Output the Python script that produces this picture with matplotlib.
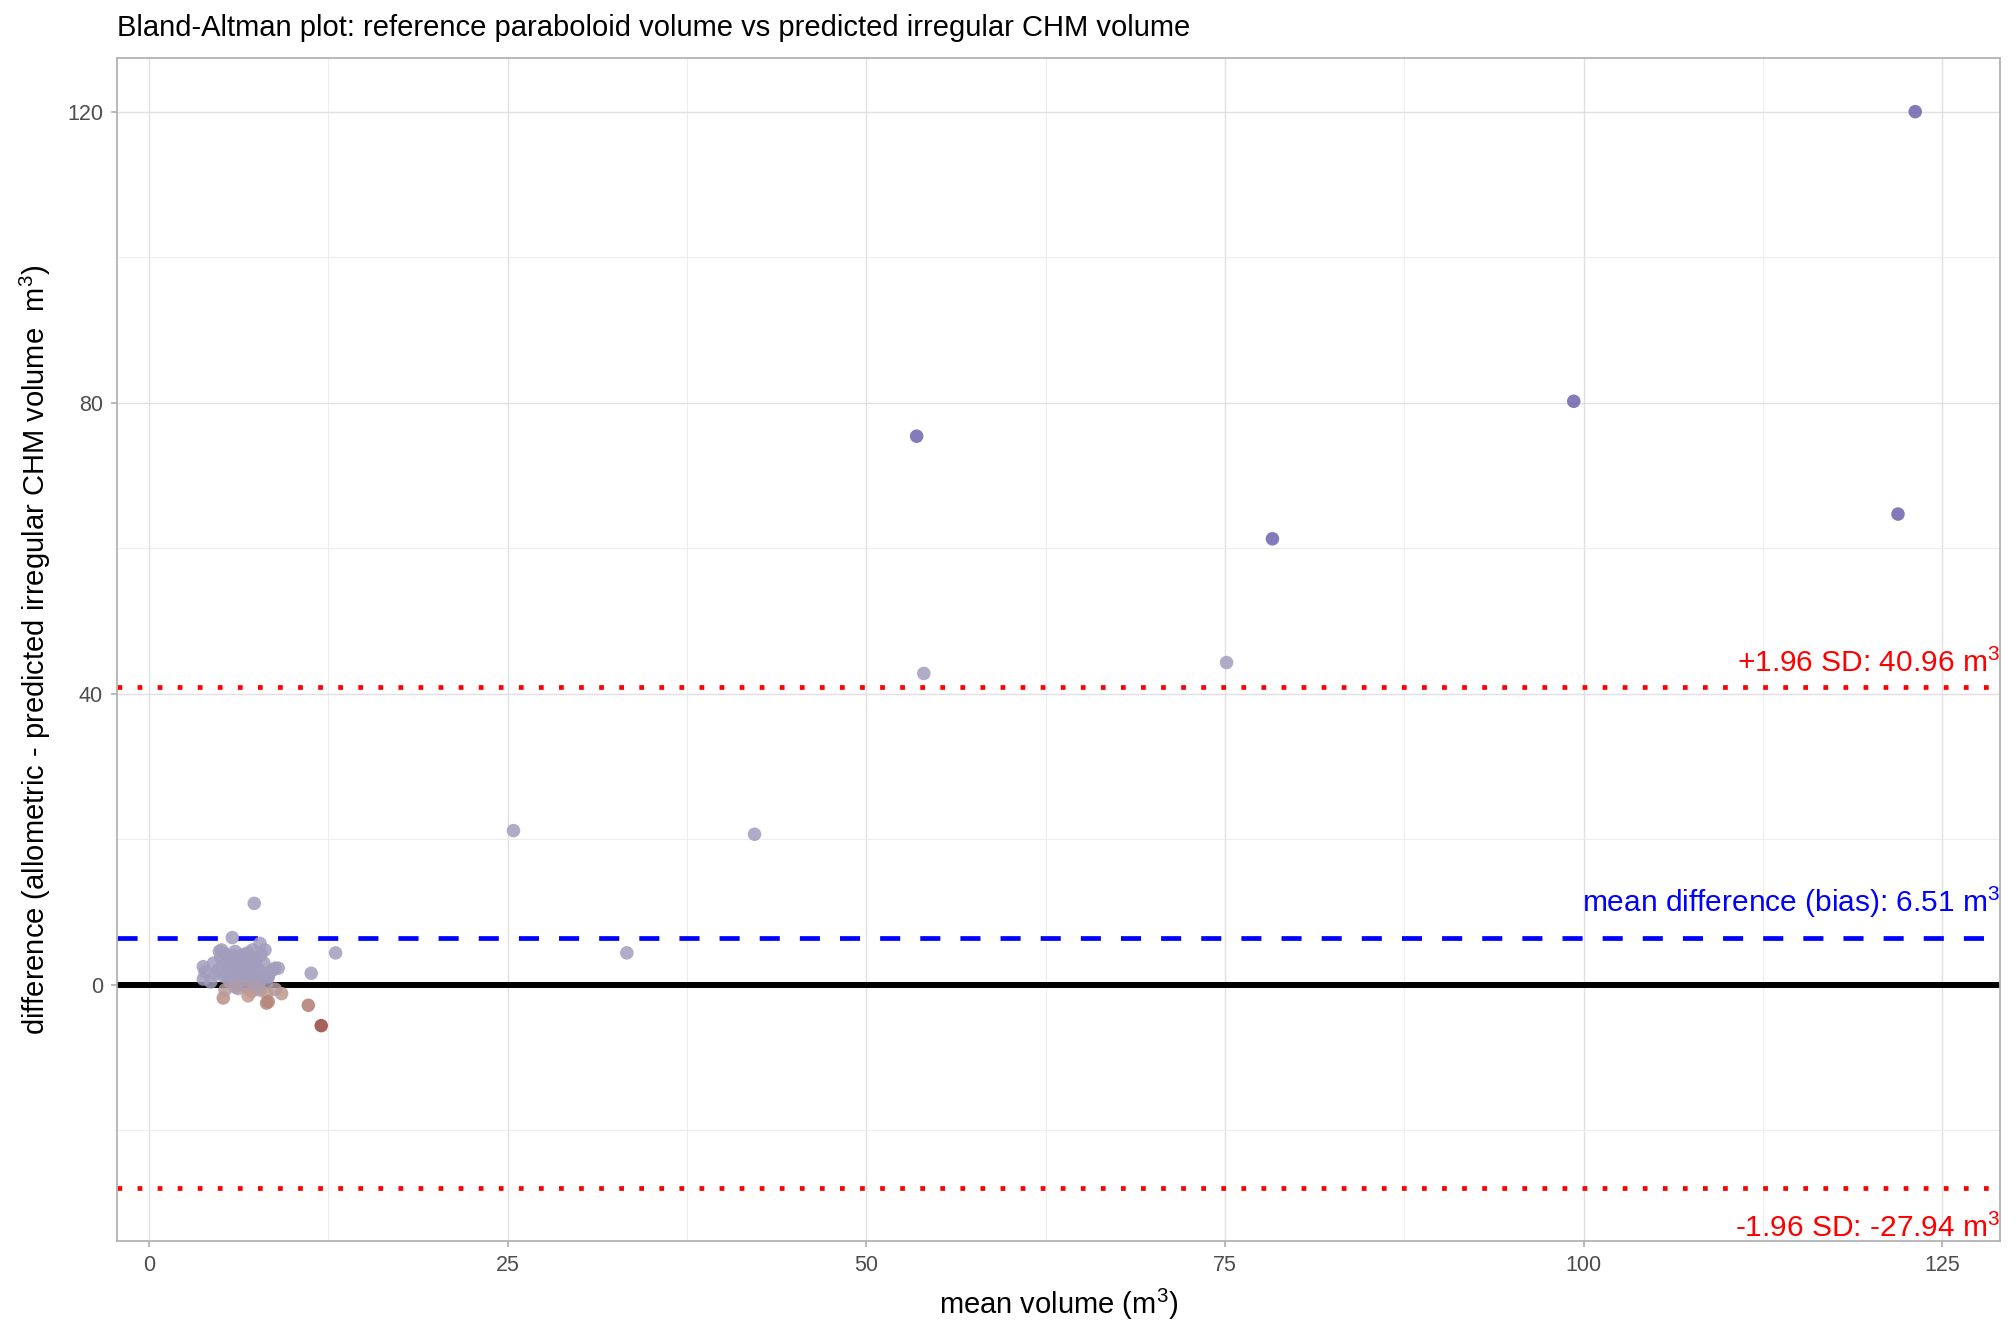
import numpy as np
import matplotlib
matplotlib.use("Agg")
import matplotlib.pyplot as plt
from matplotlib.colors import LinearSegmentedColormap, Normalize
from matplotlib.ticker import MultipleLocator

plt.rcParams["font.family"] = ["Liberation Sans", "DejaVu Sans"]
plt.rcParams["mathtext.fontset"] = "custom"
plt.rcParams["mathtext.rm"] = "Liberation Sans"
plt.rcParams["mathtext.it"] = "Liberation Sans:italic"

# mean volume (x) and difference (y)
mean_vol = [
    123.1, 99.3, 53.5, 121.9, 78.3, 54.0, 75.1, 25.4, 42.2, 33.3,
    13.0, 11.3, 12.0, 7.33, 5.8, 3.78, 3.78, 5.06, 7.73, 8.08,
    8.77, 8.31, 11.1,
    4.5, 4.8, 5.0, 5.2, 5.3, 5.5, 5.6, 5.8, 5.9, 6.0,
    6.1, 6.2, 6.3, 6.4, 6.5, 6.6, 6.7, 6.8, 6.9, 7.0,
    7.1, 7.2, 7.3, 7.4, 7.5, 7.6, 7.7, 7.8, 7.9, 8.0,
    4.9, 5.4, 5.7, 6.3, 6.6, 6.9, 7.2, 7.4, 4.6, 5.1,
    6.0, 6.8, 7.6, 8.2, 8.6, 3.9, 4.3, 8.3, 9.0,
    5.8, 6.2, 6.5, 7.0, 5.5, 6.7, 7.1, 5.9,
    5.17, 5.29, 6.22, 7.15, 8.19, 8.31, 8.19, 9.24, 7.73, 6.68,
    6.0, 7.5, 8.8, 6.9,
]
diff_vol = [
    120.0, 80.2, 75.4, 64.7, 61.3, 42.8, 44.3, 21.2, 20.7, 4.4,
    4.4, 1.6, -5.6, 11.2, 6.5, 2.5, 0.8, 4.8, 5.7, 4.8,
    2.3, 1.1, -2.8,
    3.0, 2.0, 3.8, 1.2, 4.3, 2.6, 0.5, 3.4, 1.8, 4.6,
    2.9, 0.9, 3.9, 2.2, 1.4, 4.2, 3.1, 0.6, 2.6, 3.7,
    1.8, 4.8, 2.9, 1.1, 3.5, 2.2, 0.4, 4.2, 1.6, 3.0,
    4.6, 3.5, 2.1, 1.6, 2.4, 4.4, 0.8, 3.8, 1.5, 2.6,
    0.2, 1.2, 0.9, 0.3, 2.0, 1.8, 0.4, 1.2, 2.3,
    2.7, 3.3, 1.9, 2.4, 1.0, 3.6, 2.7, 4.0,
    -1.8, -0.7, -0.5, -0.9, -1.2, -2.3, -2.5, -1.2, -0.7, -0.2,
    -0.3, -0.4, -0.6, -1.5,
]

bias = 6.51
upper_loa = 40.96
lower_loa = -27.94

x = np.array(mean_vol)
y = np.array(diff_vol)

# colour scale on the difference: dark red -> tan -> grey lavender -> purple
lo, hi = -6.0, 120.0
nodes = [(-6.0, "#96463d"), (-1.5, "#bf9a8f"), (0.0, "#a29dbd"),
         (45.0, "#a29dbd"), (58.0, "#6d64ad"), (120.0, "#6d64ad")]
cmap = LinearSegmentedColormap.from_list(
    "ba", [((v - lo) / (hi - lo), c) for v, c in nodes])
norm = Normalize(vmin=lo, vmax=hi)

fig = plt.figure(figsize=(20.16, 13.44), dpi=100)
ax = fig.add_axes([0.058, 0.0766, 0.934, 0.8804])

ax.set_xlim(-2.24, 129.0)
ax.set_ylim(-35.2, 127.4)

ax.xaxis.set_major_locator(MultipleLocator(25))
ax.xaxis.set_minor_locator(MultipleLocator(12.5))
ax.yaxis.set_major_locator(MultipleLocator(40))
ax.yaxis.set_minor_locator(MultipleLocator(20))
ax.grid(which="major", color="#e0e0e0", lw=1.0)
ax.grid(which="minor", color="#ededed", lw=0.8)
ax.set_axisbelow(True)

for s in ax.spines.values():
    s.set_color("#b3b3b3")
    s.set_linewidth(1.3)
ax.tick_params(which="major", length=4, width=1.3, color="#b3b3b3",
               labelsize=15.5, labelcolor="#4d4d4d", pad=6)
ax.tick_params(which="minor", length=0)

ax.axhline(0, color="black", lw=4.3, zorder=2)
ax.axhline(bias, color="#0000ff", lw=3.4, dashes=(4.25, 4.25),
           dash_capstyle="butt", zorder=2)
ax.axhline(upper_loa, color="#ff0000", lw=3.4, dashes=(1, 3.25),
           dash_capstyle="butt", zorder=2)
ax.axhline(lower_loa, color="#ff0000", lw=3.4, dashes=(1, 3.25),
           dash_capstyle="butt", zorder=2)

ax.scatter(x, y, s=95, c=y, cmap=cmap, norm=norm, alpha=0.85,
           edgecolors="none", zorder=3)

xr = ax.get_xlim()[1]
ax.text(xr, upper_loa + 2.0, f"+1.96 SD: {upper_loa:.2f} m$^3$",
        color="#ff0000", fontsize=21.5, ha="right", va="baseline", zorder=4)
ax.text(xr, bias + 3.5, f"mean difference (bias): {bias:.2f} m$^3$",
        color="#0000ff", fontsize=21.5, ha="right", va="baseline", zorder=4)
ax.text(xr, lower_loa - 6.7, f"-1.96 SD: {lower_loa:.2f} m$^3$",
        color="#ff0000", fontsize=21.5, ha="right", va="baseline", zorder=4)

ax.set_xlabel("mean volume (m$^3$)", fontsize=21, labelpad=8)
ax.set_ylabel("difference (allometric - predicted irregular CHM volume  m$^3$)",
              fontsize=21, labelpad=10)
fig.text(0.058, 0.979, "Bland-Altman plot: reference paraboloid volume vs "
         "predicted irregular CHM volume", fontsize=21, ha="left", va="center")

fig.savefig("out.png", dpi=100)
